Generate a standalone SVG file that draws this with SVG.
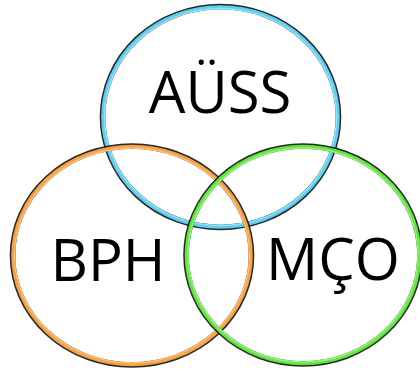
<svg xmlns="http://www.w3.org/2000/svg" width="420" height="369" viewBox="0 0 420 369">
<style>
.sh{fill:none;stroke:#111;stroke-width:5.6;opacity:0.9}
.ring{fill:none;stroke-width:4}
.hi{fill:none;stroke-width:1.4;opacity:0.55}
.lbl{font-family:"Open Sans","Noto Sans","DejaVu Sans",sans-serif;font-size:58px;fill:#000;text-anchor:middle}
</style>
<rect width="420" height="369" fill="#fff"/>
<g id="aus">
<ellipse class="sh" cx="220.5" cy="117" rx="118" ry="110.5"/>
<ellipse class="ring" cx="220.5" cy="117" rx="117.3" ry="109.8" stroke="#5bd0f2"/>
<ellipse class="hi" cx="220.5" cy="117" rx="116" ry="108.5" stroke="#c8f0fc"/>
<text class="lbl" x="220" y="113">AÜSS</text>
</g>
<g id="bph">
<ellipse class="sh" cx="132" cy="255.5" rx="119.5" ry="109.5"/>
<ellipse class="ring" cx="132" cy="255.5" rx="118.8" ry="108.8" stroke="#f7a240"/>
<ellipse class="hi" cx="132" cy="255.5" rx="117.5" ry="107.5" stroke="#ffd9a8"/>
<text class="lbl" x="108" y="281">BPH</text>
</g>
<g id="mco">
<ellipse class="sh" cx="303" cy="255" rx="117" ry="109"/>
<ellipse class="ring" cx="303" cy="255" rx="116.3" ry="108.3" stroke="#5ee83c"/>
<ellipse class="hi" cx="303" cy="255" rx="115" ry="107" stroke="#c6f8b8"/>
<text class="lbl" x="333" y="280">MÇO</text>
</g>
<g id="connectors"></g>
</svg>
